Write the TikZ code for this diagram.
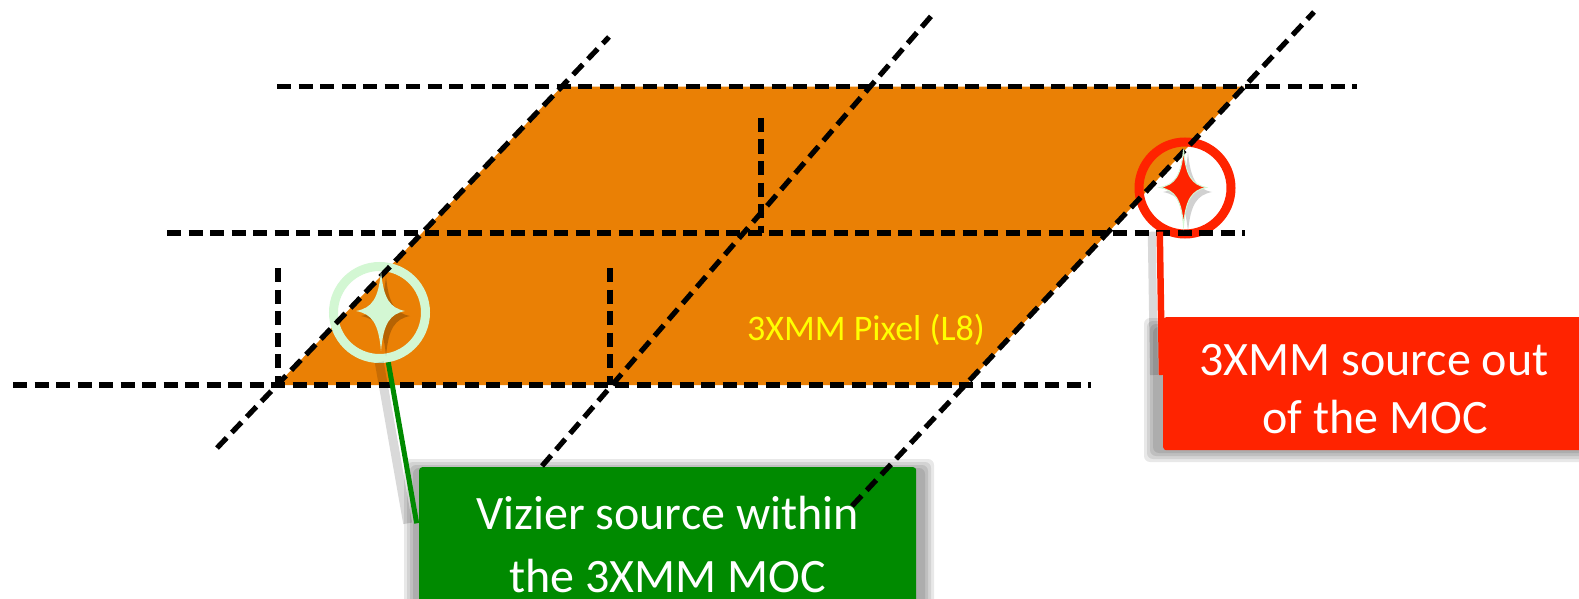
\documentclass[tikz,border=0pt]{standalone}
\usepackage{fontspec}
\setmainfont{Carlito}
\definecolor{pixorange}{HTML}{EA8005}
\definecolor{boxgreen}{HTML}{008A00}
\definecolor{boxred}{HTML}{FF2300}
\definecolor{ringgreen}{HTML}{D3F7D3}
\definecolor{pixyellow}{HTML}{FFFF00}
\tikzset{
  sparkle/.pic={\path[pic actions] (0,-40) .. controls (2.5,-12) and (9,-3) .. (24,0)
     .. controls (9,3) and (2.5,12) .. (0,40)
     .. controls (-2.5,12) and (-9,3) .. (-25,0)
     .. controls (-9,-3) and (-2.5,-12) .. cycle;},
  gridline/.style={line width=5.2pt, dash pattern=on 14pt off 7.5pt, black},
  ring/.style={circle, line width=9pt, minimum size=92pt, inner sep=0pt},
  boxtext/.style={text=white, font=\fontsize{48}{58}\selectfont, anchor=base, inner sep=0pt},
  softshadow/.style={fill=black, opacity=.09, rounded corners=6pt},
}
\begin{document}
\begin{tikzpicture}[x=1pt,y=-1pt]
\useasboundingbox (0,0) rectangle (1579,599);
\fill[white] (0,0) rectangle (1579,599);

% grid coordinates
\coordinate (t1) at (277,86.7);   \coordinate (t2) at (1357,86.7);
\coordinate (m1) at (167,233);    \coordinate (m2) at (1245,233);
\coordinate (b1) at (13,385);     \coordinate (b2) at (1091,385);
\coordinate (v1a) at (278,268);   \coordinate (v1b) at (278,385);
\coordinate (v2a) at (610,268);   \coordinate (v2b) at (610,385);
\coordinate (v3a) at (761,118);   \coordinate (v3b) at (761,233);
\coordinate (d1a) at (217,448);   \coordinate (d1b) at (609,37);
\coordinate (d2a) at (542,466);   \coordinate (d2b) at (933,14);
\coordinate (d3a) at (852,506);   \coordinate (d3b) at (1314,12);

% orange pixel
\fill[pixorange] (277,385) -- (561.6,86.7) -- (1244,86.7) -- (966,385) -- cycle;

% rings
\node[ring, draw=ringgreen] (gring) at (379.5,312.5) {};
\node[ring, draw=boxred] (rring) at (1185,188) {};

% boxes with soft shadows
\foreach \s in {0,3,6,9}{
  \fill[softshadow] (404+\s,459+\s) rectangle (934-\s,640);
}
\node[fill=boxgreen, rounded corners=3pt, anchor=north west, minimum width=497pt,
      minimum height=180pt, inner sep=0pt] (gbox) at (419,467) {};
\foreach \s in {0,3,6,9}{
  \fill[softshadow] (1144+\s,318+\s) rectangle (1600,462-\s);
}
\node[fill=boxred, rounded corners=3pt, anchor=north west, minimum width=430pt,
      minimum height=133pt, inner sep=0pt] (rbox) at (1163,317) {};

% dashed grid
\draw[gridline] (t1) -- (t2);
\draw[gridline] (m1) -- (m2);
\draw[gridline] (b1) -- (b2);
\draw[gridline] (v1a) -- (v1b);
\draw[gridline] (v2a) -- (v2b);
\draw[gridline] (v3a) -- (v3b);
\draw[gridline] (d1a) -- (d1b);
\draw[gridline] (d2a) -- (d2b);
\draw[gridline] (d3a) -- (d3b);

% stars
\pic[fill=black, opacity=.22] at (386,316) {sparkle};
\pic[fill=ringgreen] at (381,311) {sparkle};
\pic[fill=black, opacity=.18] at (1188,192) {sparkle};
\pic[fill=boxred, draw=ringgreen, line width=1pt, scale=0.95] at (1183.5,187.5) {sparkle};

% connectors
\coordinate (gend) at (416.7,523.3);
\coordinate (rend) at (1162,375);
\draw[black, opacity=.15, line width=9pt] ([xshift=-9pt]gring.-80) -- ([xshift=-9pt]gend);
\draw[boxgreen, line width=5pt] (gring.-80) -- (gend);
\draw[black, opacity=.15, line width=8pt] ([xshift=-8pt]rring.-120) -- ([xshift=-8pt]rend);
\draw[boxred, line width=6.5pt] (rring.-120) -- (rend);

% texts
\node[text=pixyellow, font=\fontsize{36}{43}\selectfont, anchor=base, inner sep=0pt] (pix) at (866,340) {3XMM Pixel (L8)};
\node[boxtext] (g1) at (667.5,529) {Vizier source within};
\node[boxtext] (g2) at (667.5,592) {the 3XMM MOC};
\node[boxtext] (r1) at (1374,375) {3XMM source out};
\node[boxtext] (r2) at (1375,433) {of the MOC};
\end{tikzpicture}
\end{document}
